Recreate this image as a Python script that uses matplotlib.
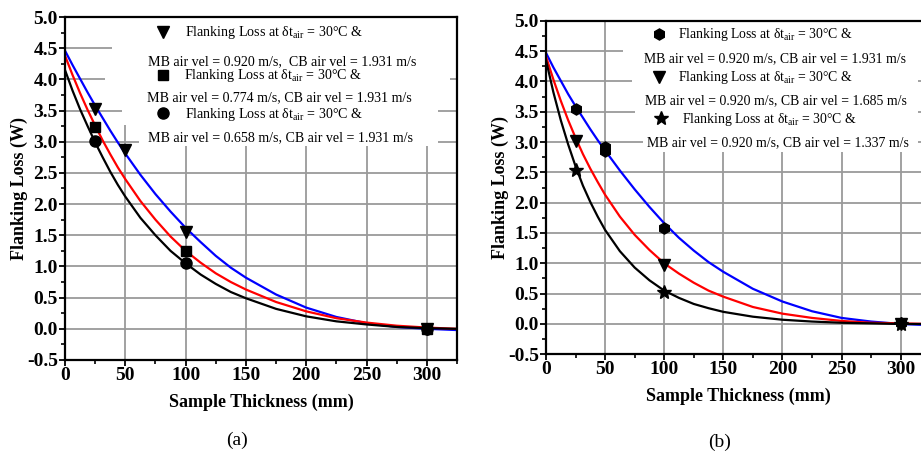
import matplotlib
matplotlib.use("Agg")
import matplotlib.pyplot as plt
from matplotlib.ticker import MultipleLocator, FormatStrFormatter
from matplotlib.patches import Polygon
from matplotlib.lines import Line2D

plt.rcParams['font.family'] = ['Liberation Serif', 'DejaVu Serif']
plt.rcParams['mathtext.fontset'] = 'custom'
plt.rcParams['mathtext.rm'] = 'Liberation Serif'
plt.rcParams['mathtext.it'] = 'Liberation Serif:italic'
plt.rcParams['axes.unicode_minus'] = False

# ---------------- data ----------------
x_curve = [0, 6.25, 12.5, 18.75, 25, 31.25, 37.5, 43.75, 50, 62.5, 75, 87.5, 100,
           112.5, 125, 137.5, 150, 175, 200, 225, 250, 275, 300, 325]

# panel (a) fitted curves
a_blue = [4.46, 4.23, 4.01, 3.79, 3.58, 3.38, 3.18, 2.99, 2.81, 2.47, 2.16, 1.88, 1.62,
          1.39, 1.17, 0.98, 0.82, 0.55, 0.34, 0.19, 0.09, 0.03, 0.00, -0.02]
a_red = [4.38, 4.07, 3.78, 3.51, 3.26, 3.02, 2.80, 2.59, 2.40, 2.05, 1.75, 1.48, 1.25,
         1.06, 0.89, 0.75, 0.63, 0.43, 0.28, 0.17, 0.10, 0.05, 0.02, 0.00]
a_black = [4.15, 3.82, 3.52, 3.25, 2.99, 2.75, 2.52, 2.31, 2.12, 1.78, 1.50, 1.25, 1.05,
           0.87, 0.72, 0.59, 0.49, 0.32, 0.20, 0.12, 0.07, 0.03, 0.01, 0.00]

# panel (a) measured points
a_tri_x = [25, 50, 100, 300]
a_tri_y = [3.53, 2.87, 1.55, 0.00]
a_sq_x = [25, 100, 300]
a_sq_y = [3.24, 1.25, 0.00]
a_circ_x = [25, 100, 300]
a_circ_y = [3.01, 1.05, 0.00]

# panel (b) fitted curves
b_blue = [4.47, 4.23, 4.01, 3.79, 3.59, 3.40, 3.21, 3.03, 2.86, 2.53, 2.22, 1.93, 1.66,
          1.42, 1.21, 1.02, 0.86, 0.58, 0.37, 0.21, 0.10, 0.04, 0.00, -0.02]
b_red = [4.41, 4.03, 3.68, 3.36, 3.07, 2.80, 2.56, 2.34, 2.13, 1.77, 1.47, 1.22, 1.00,
         0.83, 0.68, 0.55, 0.45, 0.28, 0.17, 0.10, 0.05, 0.02, 0.01, 0.00]
b_black = [4.35, 3.82, 3.36, 2.96, 2.60, 2.28, 2.01, 1.77, 1.55, 1.20, 0.93, 0.72, 0.55,
           0.43, 0.33, 0.26, 0.20, 0.12, 0.07, 0.04, 0.02, 0.01, 0.00, 0.00]

# panel (b) measured points
b_hex_x = [25, 50, 50, 100, 300]
b_hex_y = [3.54, 2.92, 2.85, 1.58, 0.01]
b_tri_x = [25, 100, 300]
b_tri_y = [3.02, 0.97, 0.00]
b_star_x = [25, 100, 300]
b_star_y = [2.54, 0.53, 0.00]

legend_line1 = 'Flanking Loss at δt$_{\\mathrm{air}}$ = 30°C &'
a_legend_line2 = ['MB air vel = 0.920 m/s,  CB air vel = 1.931 m/s',
                  'MB air vel = 0.774 m/s, CB air vel = 1.931 m/s',
                  'MB air vel = 0.658 m/s, CB air vel = 1.931 m/s']
b_legend_line2 = ['MB air vel = 0.920 m/s, CB air vel = 1.931 m/s',
                  'MB air vel = 0.920 m/s, CB air vel = 1.685 m/s',
                  'MB air vel = 0.920 m/s, CB air vel = 1.337 m/s']

W, H = 921, 453
fig = plt.figure(figsize=(W / 100, H / 100), dpi=100)


def fx(px):
    return px / W


def fy(py):
    return 1 - py / H


def setup(ax):
    ax.set_xlim(0, 325)
    ax.set_ylim(-0.5, 5.0)
    ax.xaxis.set_major_locator(MultipleLocator(50))
    ax.xaxis.set_minor_locator(MultipleLocator(25))
    ax.yaxis.set_major_locator(MultipleLocator(0.5))
    ax.yaxis.set_minor_locator(MultipleLocator(0.25))
    ax.yaxis.set_major_formatter(FormatStrFormatter('%.1f'))
    ax.grid(True, which='major', color='#9a9a9a', lw=1.3)
    ax.set_axisbelow(True)
    for s in ax.spines.values():
        s.set_linewidth(1.6)
    ax.tick_params(which='major', direction='out', length=4, width=1.3,
                   labelsize=14, pad=1)
    ax.tick_params(which='minor', direction='out', length=3, width=1.2)
    for lab in ax.get_xticklabels() + ax.get_yticklabels():
        lab.set_fontweight('bold')
    ax.set_xlabel('Sample Thickness (mm)', fontsize=13, fontweight='bold', labelpad=7)
    ax.set_ylabel('Flanking Loss (W)', fontsize=13, fontweight='bold', labelpad=-1)


def white_box(ax, pts):
    poly = Polygon([(fx(px), fy(py)) for px, py in pts], closed=True,
                   transform=fig.transFigure, facecolor='white', edgecolor='none',
                   zorder=0.8)
    ax.add_patch(poly)
    poly.set_clip_path(ax.patch)


def legend_entry(marker, ms, mx, my, t1x, t1y, line2, t2x, t2y, fs):
    fig.add_artist(Line2D([fx(mx)], [fy(my)], marker=marker, ms=ms, color='black',
                          ls='none', transform=fig.transFigure))
    fig.text(fx(t1x), fy(t1y), legend_line1, fontsize=fs, ha='left', va='baseline')
    fig.text(fx(t2x), fy(t2y), line2, fontsize=fs, ha='left', va='baseline')


# ---------------- panel (a) ----------------
axa = fig.add_axes([65 / W, 1 - 360 / H, 392 / W, 343 / H])
setup(axa)
white_box(axa, [(112, 10), (112, 65), (105, 65), (105, 95), (122, 95), (122, 125),
                (139, 125), (139, 146), (438, 146), (438, 95), (450, 95), (450, 65),
                (470, 65), (470, 10)])
axa.plot(x_curve, a_blue, color='#0000ff', lw=1.6, zorder=2)
axa.plot(x_curve, a_red, color='#ff0000', lw=1.6, zorder=2)
axa.plot(x_curve, a_black, color='black', lw=1.6, zorder=2)
axa.plot(a_tri_x, a_tri_y, 'v', color='black', ms=9, zorder=3, clip_on=False)
axa.plot(a_sq_x, a_sq_y, 's', color='black', ms=7, zorder=3, clip_on=False)
axa.plot(a_circ_x, a_circ_y, 'o', color='black', ms=8, zorder=3, clip_on=False)

legend_entry('v', 9, 163, 32, 185, 36, a_legend_line2[0], 148, 65, 10.1)
legend_entry('s', 7, 163, 75, 184, 79, a_legend_line2[1], 147, 101, 10.1)
legend_entry('o', 8, 163, 113, 185, 118, a_legend_line2[2], 148, 141, 10.1)
fig.text(fx(237), fy(440), '(a)', fontsize=14, ha='center', va='center')

# ---------------- panel (b) ----------------
axb = fig.add_axes([546 / W, 1 - 354.3 / H, 384.2 / W, 333.6 / H])
setup(axb)
white_box(axb, [(623, 10), (623, 65), (632, 65), (632, 95), (635, 95), (635, 125),
                (643, 125), (643, 152), (918, 152), (918, 65), (940, 65), (940, 10)])
axb.plot(x_curve, b_blue, color='#0000ff', lw=1.6, zorder=2)
axb.plot(x_curve, b_red, color='#ff0000', lw=1.6, zorder=2)
axb.plot(x_curve, b_black, color='black', lw=1.6, zorder=2)
axb.plot(b_hex_x, b_hex_y, 'h', color='black', ms=8, zorder=3, clip_on=False)
axb.plot(b_tri_x, b_tri_y, 'v', color='black', ms=9, zorder=3, clip_on=False)
axb.plot(b_star_x, b_star_y, '*', color='black', ms=10, zorder=3, clip_on=False)

legend_entry('h', 8, 659, 34, 678, 38, b_legend_line2[0], 644, 62, 9.9)
legend_entry('v', 9, 659, 77, 678, 81, b_legend_line2[1], 645, 104, 9.9)
legend_entry('*', 10, 661, 118, 682, 123, b_legend_line2[2], 647, 146, 9.9)
fig.text(fx(720), fy(442), '(b)', fontsize=14, ha='center', va='center')

fig.savefig('out.png', dpi=100)
